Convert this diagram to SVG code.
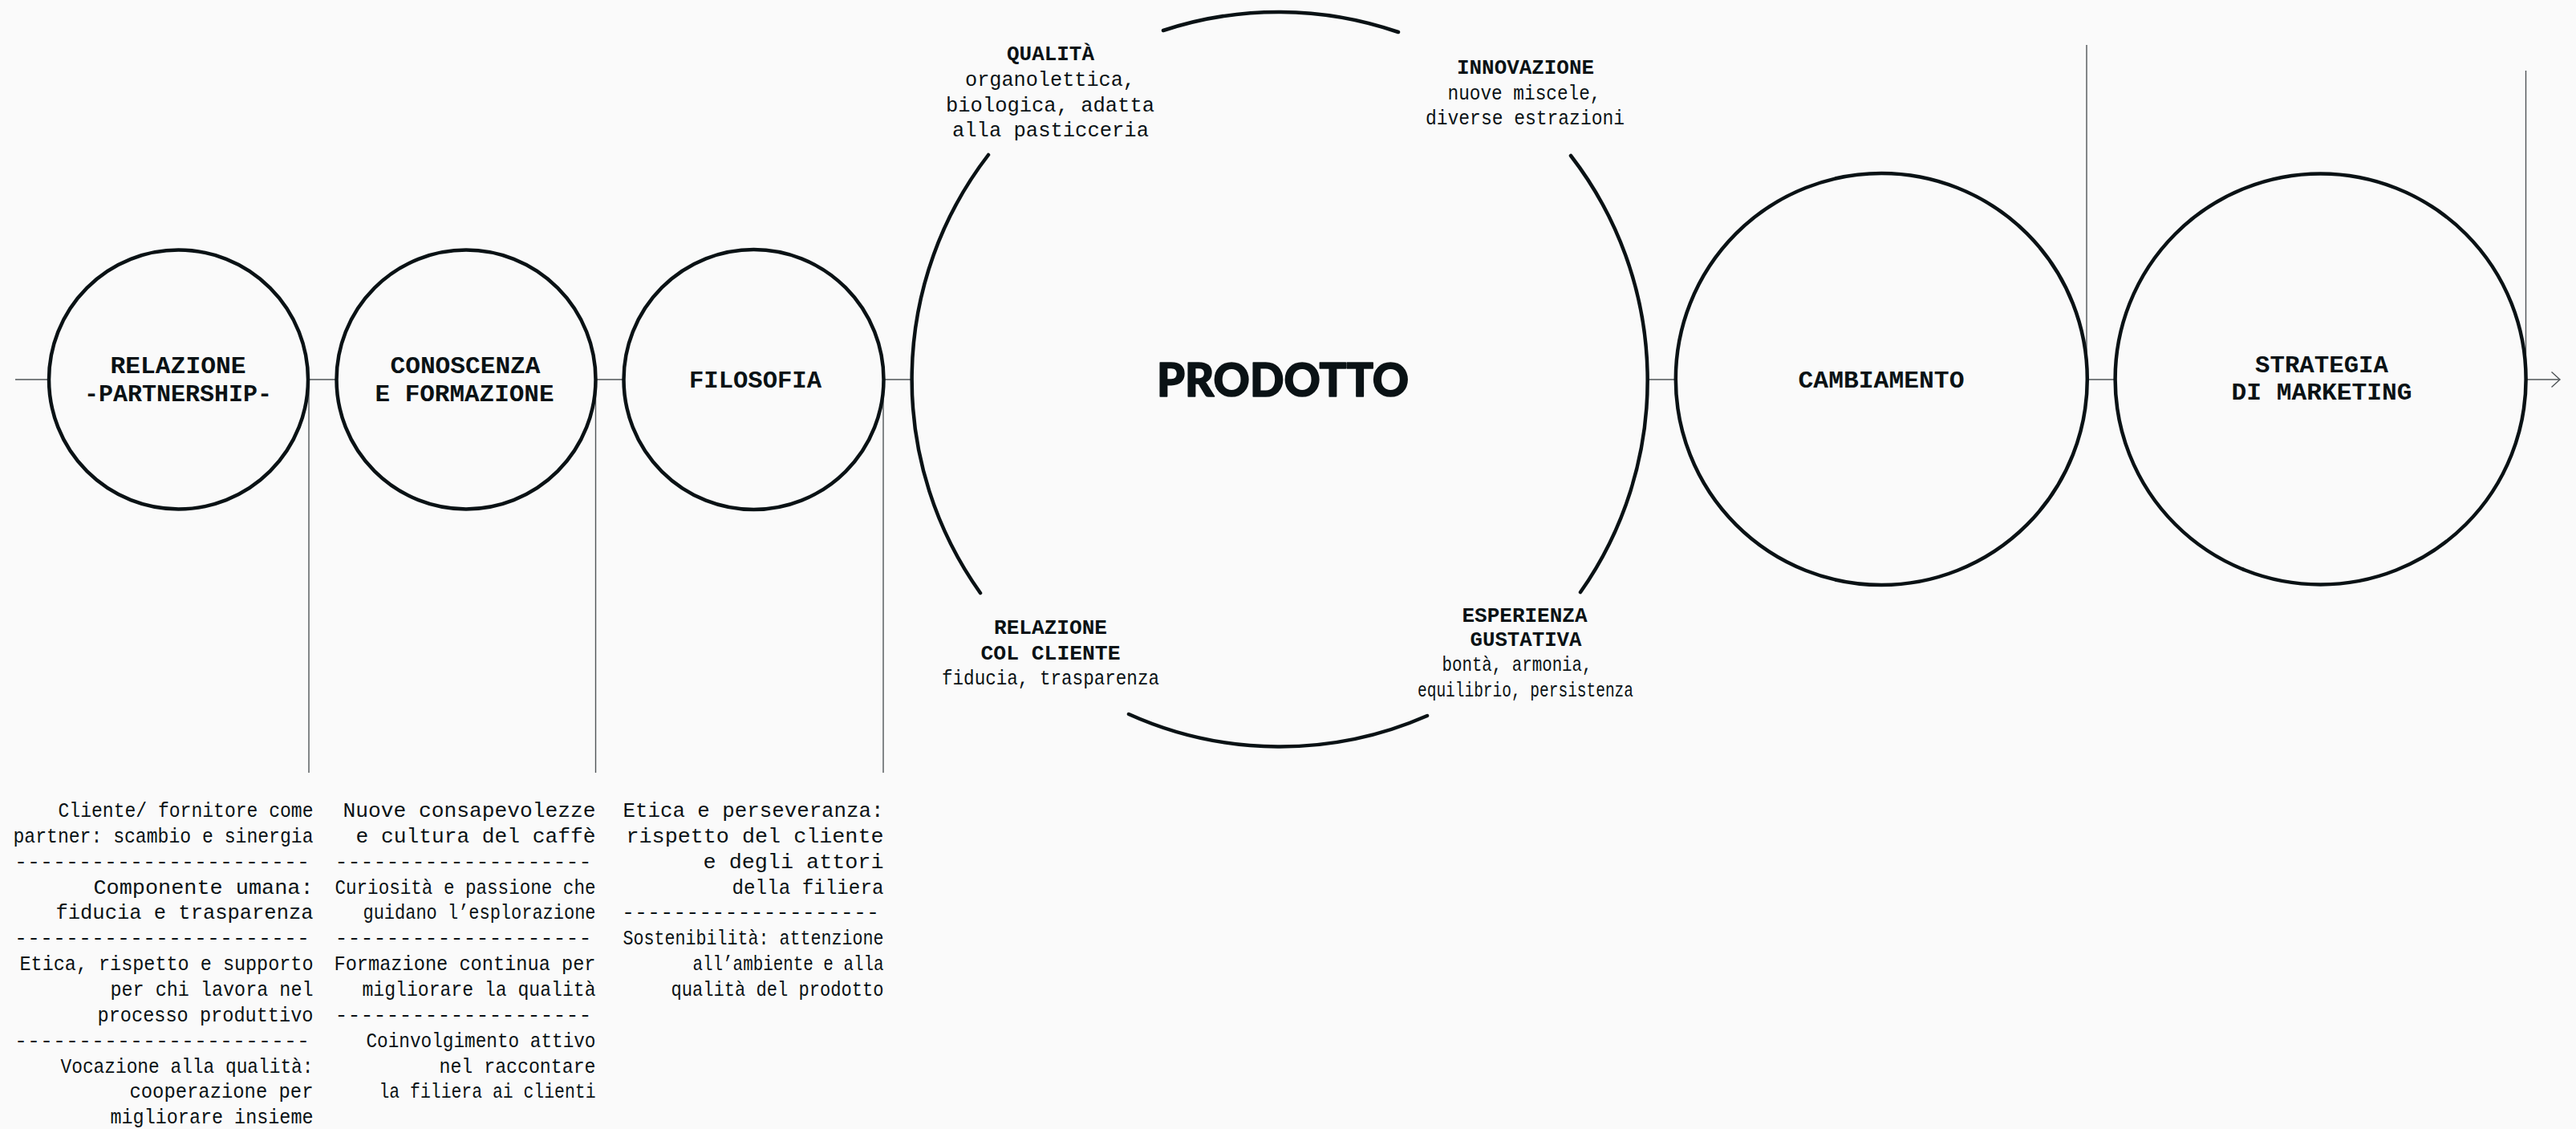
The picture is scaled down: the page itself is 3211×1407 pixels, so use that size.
<svg xmlns="http://www.w3.org/2000/svg" width="3211" height="1407" viewBox="0 0 3211 1407">
  <defs>
    <style>
      .bg { fill: #fafafa; }
      .ring { fill: none; stroke: #0a1215; stroke-width: 4.5; }
      .arc { fill: none; stroke: #0a1215; stroke-width: 4.5; stroke-linecap: round; }
      .link { fill: none; stroke: #4f5457; stroke-width: 1.4; }
      text { fill: #0a1215; font-family: "Liberation Mono", "DejaVu Sans Mono", monospace; }
      .head { font-size: 30px; font-weight: 700; text-anchor: middle; }
      .sub { font-size: 25px; font-weight: 700; text-anchor: middle; }
      .lbl { font-size: 25px; text-anchor: middle; }
      .note { font-size: 25px; text-anchor: end; }
      .big { font-family: "Lato", "Inter", "Liberation Sans", sans-serif; font-size: 57px; font-weight: 900; text-anchor: middle; stroke: #0a1215; stroke-width: 1.6; stroke-linejoin: round; }
    </style>
    <marker id="arrow-open" viewBox="0 0 14 22" refX="12" refY="11" markerWidth="14" markerHeight="22" markerUnits="userSpaceOnUse" orient="auto">
      <path d="M1.5 1.5 L12 11 L1.5 20.5" fill="none" stroke="#4f5457" stroke-width="1.4"/>
    </marker>
  </defs>

  <rect class="bg" x="0" y="0" width="3211" height="1407"/>

  <!-- connectors: main axis, drop lines to the notes, rising lines on the right -->
  <g id="connectors">
    <line class="link" x1="19" y1="473" x2="60" y2="473"/>
    <line class="link" x1="384" y1="473" x2="419" y2="473"/>
    <line class="link" x1="743" y1="473" x2="777" y2="473"/>
    <line class="link" x1="1102" y1="473" x2="1137" y2="473"/>
    <line class="link" x1="2053" y1="473" x2="2089" y2="473"/>
    <line class="link" x1="2602" y1="473" x2="2637" y2="473"/>
    <line class="link" x1="3149" y1="473" x2="3191" y2="473" marker-end="url(#arrow-open)"/>
    <line class="link" x1="385" y1="473" x2="385" y2="963"/>
    <line class="link" x1="742.5" y1="473" x2="742.5" y2="963"/>
    <line class="link" x1="1101" y1="473" x2="1101" y2="963"/>
    <line class="link" x1="2601" y1="56" x2="2601" y2="473"/>
    <line class="link" x1="3148.5" y1="88" x2="3148.5" y2="473"/>
  </g>

  <!-- RELAZIONE -PARTNERSHIP- -->
  <g id="node-relazione">
    <circle class="ring" cx="222.5" cy="473" r="161.5"/>
    <text class="head" x="222" y="465" textLength="169" lengthAdjust="spacingAndGlyphs">RELAZIONE</text>
    <text class="head" x="222" y="500" textLength="234" lengthAdjust="spacingAndGlyphs">-PARTNERSHIP-</text>
  </g>

  <!-- CONOSCENZA E FORMAZIONE -->
  <g id="node-conoscenza">
    <circle class="ring" cx="581" cy="473" r="161.5"/>
    <text class="head" x="580" y="465" textLength="187" lengthAdjust="spacingAndGlyphs">CONOSCENZA</text>
    <text class="head" x="579" y="500" textLength="223" lengthAdjust="spacingAndGlyphs">E FORMAZIONE</text>
  </g>

  <!-- FILOSOFIA -->
  <g id="node-filosofia">
    <circle class="ring" cx="939.5" cy="473" r="162"/>
    <text class="head" x="941.5" y="483" textLength="165" lengthAdjust="spacingAndGlyphs">FILOSOFIA</text>
  </g>

  <!-- PRODOTTO: broken ring with four facets -->
  <g id="node-prodotto">
    <path class="arc" d="M1450 38 A458 458 0 0 1 1743 40"/>
    <path class="arc" d="M1958 194 A458 458 0 0 1 1970 738"/>
    <path class="arc" d="M1779 892 A458 458 0 0 1 1407 890"/>
    <path class="arc" d="M1222 739 A458 458 0 0 1 1232 193"/>
    <text class="big" x="1599" y="494" textLength="314" lengthAdjust="spacingAndGlyphs">PRODOTTO</text>
  </g>

  <g id="facet-qualita">
    <text class="sub" x="1309.5" y="75" textLength="109" lengthAdjust="spacingAndGlyphs">QUALITÀ</text>
    <text class="lbl" x="1309" y="107" textLength="212" lengthAdjust="spacingAndGlyphs">organolettica,</text>
    <text class="lbl" x="1309" y="139" textLength="260" lengthAdjust="spacingAndGlyphs">biologica, adatta</text>
    <text class="lbl" x="1309.5" y="170" textLength="245" lengthAdjust="spacingAndGlyphs">alla pasticceria</text>
  </g>

  <g id="facet-innovazione">
    <text class="sub" x="1901.5" y="92" textLength="171" lengthAdjust="spacingAndGlyphs">INNOVAZIONE</text>
    <text class="lbl" x="1900" y="124" textLength="191" lengthAdjust="spacingAndGlyphs">nuove miscele,</text>
    <text class="lbl" x="1901" y="155" textLength="248" lengthAdjust="spacingAndGlyphs">diverse estrazioni</text>
  </g>

  <g id="facet-relazione-cliente">
    <text class="sub" x="1309.5" y="790" textLength="141" lengthAdjust="spacingAndGlyphs">RELAZIONE</text>
    <text class="sub" x="1309.5" y="822" textLength="174" lengthAdjust="spacingAndGlyphs">COL CLIENTE</text>
    <text class="lbl" x="1309.5" y="853" textLength="271" lengthAdjust="spacingAndGlyphs">fiducia, trasparenza</text>
  </g>

  <g id="facet-esperienza">
    <text class="sub" x="1900.5" y="775" textLength="156" lengthAdjust="spacingAndGlyphs">ESPERIENZA</text>
    <text class="sub" x="1902" y="805" textLength="139" lengthAdjust="spacingAndGlyphs">GUSTATIVA</text>
    <text class="lbl" x="1891" y="836" textLength="187" lengthAdjust="spacingAndGlyphs">bontà, armonia,</text>
    <text class="lbl" x="1901.5" y="868" textLength="269" lengthAdjust="spacingAndGlyphs">equilibrio, persistenza</text>
  </g>

  <!-- CAMBIAMENTO -->
  <g id="node-cambiamento">
    <circle class="ring" cx="2345.3" cy="472.5" r="256.5"/>
    <text class="head" x="2345" y="483" textLength="207" lengthAdjust="spacingAndGlyphs">CAMBIAMENTO</text>
  </g>

  <!-- STRATEGIA DI MARKETING -->
  <g id="node-strategia">
    <circle class="ring" cx="2892.6" cy="472.5" r="256"/>
    <text class="head" x="2894" y="463.5" textLength="166" lengthAdjust="spacingAndGlyphs">STRATEGIA</text>
    <text class="head" x="2894" y="498" textLength="225" lengthAdjust="spacingAndGlyphs">DI MARKETING</text>
  </g>

  <!-- notes under RELAZIONE -->
  <g id="notes-relazione">
    <text class="note" x="390.5" y="1018" textLength="318" lengthAdjust="spacingAndGlyphs">Cliente/ fornitore come</text>
    <text class="note" x="390.5" y="1049.9" textLength="374" lengthAdjust="spacingAndGlyphs">partner: scambio e sinergia</text>
    <text class="note" x="386" y="1081.7" textLength="368" lengthAdjust="spacingAndGlyphs">-----------------------</text>
    <text class="note" x="390.5" y="1113.6" textLength="274" lengthAdjust="spacingAndGlyphs">Componente umana:</text>
    <text class="note" x="390.5" y="1145.4" textLength="321" lengthAdjust="spacingAndGlyphs">fiducia e trasparenza</text>
    <text class="note" x="386" y="1177.3" textLength="368" lengthAdjust="spacingAndGlyphs">-----------------------</text>
    <text class="note" x="390.5" y="1209.1" textLength="366" lengthAdjust="spacingAndGlyphs">Etica, rispetto e supporto</text>
    <text class="note" x="390.5" y="1241" textLength="253" lengthAdjust="spacingAndGlyphs">per chi lavora nel</text>
    <text class="note" x="390.5" y="1272.8" textLength="269" lengthAdjust="spacingAndGlyphs">processo produttivo</text>
    <text class="note" x="386" y="1304.7" textLength="368" lengthAdjust="spacingAndGlyphs">-----------------------</text>
    <text class="note" x="390.5" y="1336.5" textLength="315" lengthAdjust="spacingAndGlyphs">Vocazione alla qualità:</text>
    <text class="note" x="390.5" y="1368.4" textLength="229" lengthAdjust="spacingAndGlyphs">cooperazione per</text>
    <text class="note" x="390.5" y="1400.2" textLength="253" lengthAdjust="spacingAndGlyphs">migliorare insieme</text>
  </g>

  <!-- notes under CONOSCENZA E FORMAZIONE -->
  <g id="notes-conoscenza">
    <text class="note" x="742.5" y="1018" textLength="315" lengthAdjust="spacingAndGlyphs">Nuove consapevolezze</text>
    <text class="note" x="742.5" y="1049.9" textLength="299" lengthAdjust="spacingAndGlyphs">e cultura del caffè</text>
    <text class="note" x="737.5" y="1081.7" textLength="320" lengthAdjust="spacingAndGlyphs">--------------------</text>
    <text class="note" x="742.5" y="1113.6" textLength="325" lengthAdjust="spacingAndGlyphs">Curiosità e passione che</text>
    <text class="note" x="742.5" y="1145.4" textLength="290" lengthAdjust="spacingAndGlyphs">guidano l’esplorazione</text>
    <text class="note" x="737.5" y="1177.3" textLength="320" lengthAdjust="spacingAndGlyphs">--------------------</text>
    <text class="note" x="742.5" y="1209.1" textLength="326" lengthAdjust="spacingAndGlyphs">Formazione continua per</text>
    <text class="note" x="742.5" y="1241" textLength="291" lengthAdjust="spacingAndGlyphs">migliorare la qualità</text>
    <text class="note" x="737.5" y="1272.8" textLength="320" lengthAdjust="spacingAndGlyphs">--------------------</text>
    <text class="note" x="742.5" y="1304.7" textLength="286" lengthAdjust="spacingAndGlyphs">Coinvolgimento attivo</text>
    <text class="note" x="742.5" y="1336.5" textLength="195" lengthAdjust="spacingAndGlyphs">nel raccontare</text>
    <text class="note" x="742.5" y="1368.4" textLength="270" lengthAdjust="spacingAndGlyphs">la filiera ai clienti</text>
  </g>

  <!-- notes under FILOSOFIA -->
  <g id="notes-filosofia">
    <text class="note" x="1101.5" y="1018" textLength="325" lengthAdjust="spacingAndGlyphs">Etica e perseveranza:</text>
    <text class="note" x="1101.5" y="1049.9" textLength="321" lengthAdjust="spacingAndGlyphs">rispetto del cliente</text>
    <text class="note" x="1101.5" y="1081.7" textLength="225" lengthAdjust="spacingAndGlyphs">e degli attori</text>
    <text class="note" x="1101.5" y="1113.6" textLength="189" lengthAdjust="spacingAndGlyphs">della filiera</text>
    <text class="note" x="1096" y="1145.4" textLength="321" lengthAdjust="spacingAndGlyphs">--------------------</text>
    <text class="note" x="1101.5" y="1177.3" textLength="325" lengthAdjust="spacingAndGlyphs">Sostenibilità: attenzione</text>
    <text class="note" x="1101.5" y="1209.1" textLength="238" lengthAdjust="spacingAndGlyphs">all’ambiente e alla</text>
    <text class="note" x="1101.5" y="1241" textLength="265" lengthAdjust="spacingAndGlyphs">qualità del prodotto</text>
  </g>
</svg>
